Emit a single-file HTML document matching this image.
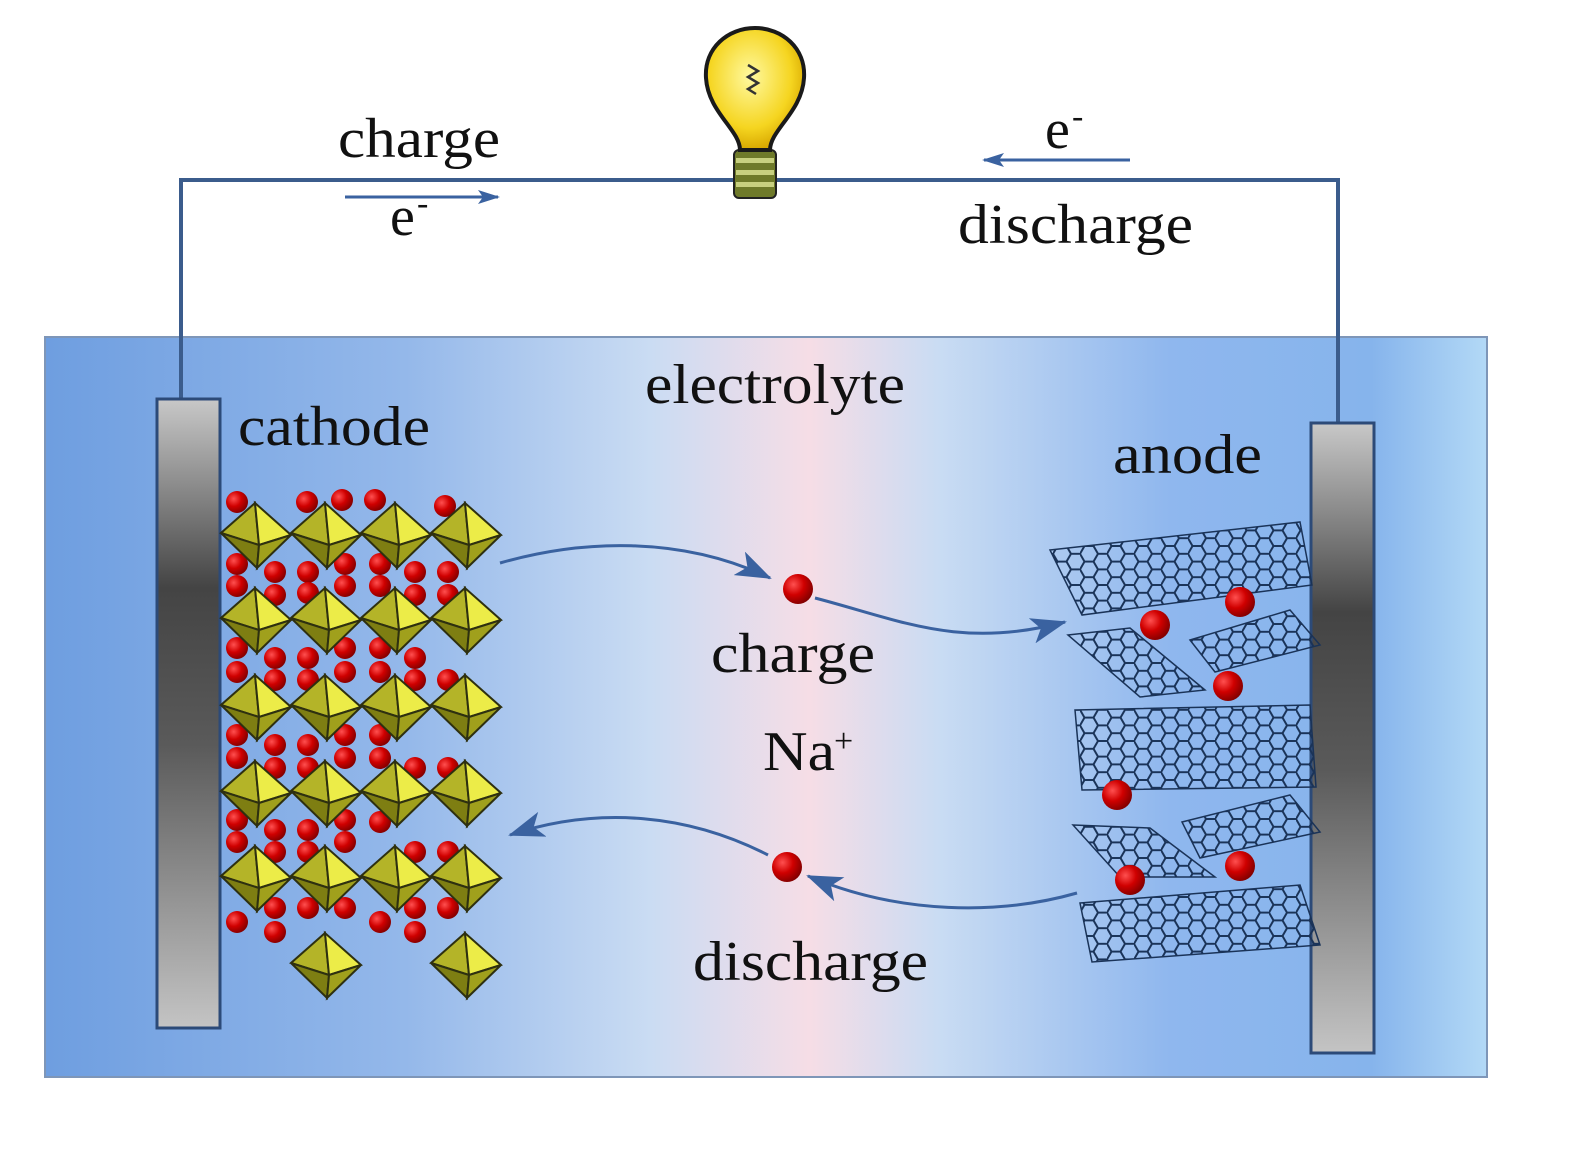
<!DOCTYPE html>
<html><head><meta charset="utf-8">
<style>
html,body{margin:0;padding:0;background:#fff;}
svg{display:block;}
text{font-family:"Liberation Serif",serif;fill:#111;}
</style></head>
<body>
<svg width="1584" height="1156" viewBox="0 0 1584 1156" xmlns="http://www.w3.org/2000/svg">
<defs>
<linearGradient id="elec" x1="0" y1="0" x2="1" y2="0">
<stop offset="0" stop-color="#6e9ee0"/>
<stop offset="0.25" stop-color="#94b8ea"/>
<stop offset="0.42" stop-color="#cadcf3"/>
<stop offset="0.53" stop-color="#f6dde6"/>
<stop offset="0.62" stop-color="#c9dcf3"/>
<stop offset="0.78" stop-color="#8fb7ee"/>
<stop offset="0.92" stop-color="#86b4ec"/>
<stop offset="1" stop-color="#b3d9f6"/>
</linearGradient>
<linearGradient id="rod" x1="0" y1="0" x2="0" y2="1">
<stop offset="0" stop-color="#c8c8c8"/>
<stop offset="0.3" stop-color="#444"/>
<stop offset="0.55" stop-color="#5a5a5a"/>
<stop offset="1" stop-color="#c4c4c4"/>
</linearGradient>
<radialGradient id="ball" cx="0.35" cy="0.35" r="0.7">
<stop offset="0" stop-color="#ff5050"/>
<stop offset="0.5" stop-color="#d00000"/>
<stop offset="1" stop-color="#800000"/>
</radialGradient>
<radialGradient id="glass" cx="0.45" cy="0.4" r="0.6">
<stop offset="0" stop-color="#fff9a0"/>
<stop offset="0.7" stop-color="#f5d520"/>
<stop offset="1" stop-color="#d8a800"/>
</radialGradient>
<g id="oct">
<polygon points="0,-32 -34,-2 4,10" fill="#b4b428" stroke="#2e3010" stroke-width="2"/>
<polygon points="0,-32 4,10 36,0" fill="#ecec48" stroke="#2e3010" stroke-width="2"/>
<polygon points="-34,-2 4,10 2,33" fill="#7e7e12" stroke="#2e3010" stroke-width="2"/>
<polygon points="4,10 36,0 2,33" fill="#a0a01c" stroke="#2e3010" stroke-width="2"/>
</g>
<circle id="b" r="11" fill="url(#ball)"/>
<circle id="B" r="15" fill="url(#ball)"/>
<pattern id="hex" width="27" height="15.6" patternUnits="userSpaceOnUse">
<path d="M0,7.8 L4.5,0 L13.5,0 L18,7.8 L13.5,15.6 L4.5,15.6 Z M18,7.8 L27,7.8" fill="none" stroke="#1a3358" stroke-width="2"/>
</pattern>
<marker id="ah" markerWidth="22" markerHeight="14" refX="20" refY="7" orient="auto" markerUnits="userSpaceOnUse">
<path d="M0,0 L22,7 L0,14 L5,7 Z" fill="#3a62a0"/>
</marker>
<marker id="ah2" markerWidth="36" markerHeight="26" refX="34" refY="13" orient="auto" markerUnits="userSpaceOnUse">
<path d="M0,0 L36,13 L0,26 L9,13 Z" fill="#3a62a0"/>
</marker>
</defs>

<rect x="45" y="337" width="1442" height="740" fill="url(#elec)" stroke="#7e96b8" stroke-width="2"/>

<path d="M181,400 V180 H1338 V423" fill="none" stroke="#3b5c8c" stroke-width="4"/>

<g>
<rect x="734" y="150" width="42" height="48" rx="5" fill="#6f7a2a" stroke="#222" stroke-width="2"/>
<rect x="736" y="158" width="38" height="5" fill="#c8d080"/>
<rect x="736" y="170" width="38" height="5" fill="#c8d080"/>
<rect x="736" y="182" width="38" height="5" fill="#c8d080"/>
<path d="M740,150 C740,130 708,112 706,78 C704,48 728,28 755,28 C782,28 806,48 804,78 C802,112 770,130 770,150 Z" fill="url(#glass)" stroke="#1a1a1a" stroke-width="4"/>
<path d="M748,65 l10,6 -10,6 10,6 -10,6 8,5" fill="none" stroke="#333" stroke-width="2.5"/>
</g>

<text x="338" y="157" font-size="56" textLength="162" lengthAdjust="spacingAndGlyphs">charge</text>
<text x="390" y="235" font-size="56">e</text><text x="417" y="214" font-size="34">-</text>
<line x1="345" y1="197" x2="498" y2="197" stroke="#3a62a0" stroke-width="3" marker-end="url(#ah)"/>
<text x="1045" y="148" font-size="56">e</text><text x="1072" y="127" font-size="34">-</text>
<line x1="1130" y1="160" x2="984" y2="160" stroke="#3a62a0" stroke-width="3" marker-end="url(#ah)"/>
<text x="958" y="243" font-size="56" textLength="235" lengthAdjust="spacingAndGlyphs">discharge</text>

<text x="645" y="403" font-size="56" textLength="260" lengthAdjust="spacingAndGlyphs">electrolyte</text>
<text x="238" y="445" font-size="56" textLength="192" lengthAdjust="spacingAndGlyphs">cathode</text>
<text x="1113" y="473" font-size="56" textLength="149" lengthAdjust="spacingAndGlyphs">anode</text>
<text x="711" y="672" font-size="56" textLength="164" lengthAdjust="spacingAndGlyphs">charge</text>
<text x="763" y="770" font-size="56" textLength="72" lengthAdjust="spacingAndGlyphs">Na</text><text x="834" y="752" font-size="34">+</text>
<text x="693" y="980" font-size="56" textLength="235" lengthAdjust="spacingAndGlyphs">discharge</text>

<rect x="157" y="399" width="63" height="629" fill="url(#rod)" stroke="#2c4a78" stroke-width="3"/>
<rect x="1311" y="423" width="63" height="630" fill="url(#rod)" stroke="#2c4a78" stroke-width="3"/>

<g>
<use href="#b" x="237" y="502"/><use href="#b" x="307" y="502"/><use href="#b" x="342" y="500"/><use href="#b" x="375" y="500"/><use href="#b" x="445" y="506"/>
<use href="#b" x="237" y="564"/><use href="#b" x="237" y="586"/><use href="#b" x="275" y="572"/><use href="#b" x="275" y="595"/><use href="#b" x="308" y="572"/><use href="#b" x="308" y="593"/><use href="#b" x="345" y="564"/><use href="#b" x="345" y="586"/><use href="#b" x="380" y="564"/><use href="#b" x="380" y="586"/><use href="#b" x="415" y="572"/><use href="#b" x="415" y="595"/><use href="#b" x="448" y="572"/><use href="#b" x="448" y="595"/>
<use href="#b" x="237" y="648"/><use href="#b" x="237" y="672"/><use href="#b" x="275" y="658"/><use href="#b" x="275" y="680"/><use href="#b" x="308" y="658"/><use href="#b" x="308" y="680"/><use href="#b" x="345" y="648"/><use href="#b" x="345" y="672"/><use href="#b" x="380" y="648"/><use href="#b" x="380" y="672"/><use href="#b" x="415" y="658"/><use href="#b" x="415" y="680"/><use href="#b" x="448" y="680"/>
<use href="#b" x="237" y="735"/><use href="#b" x="237" y="758"/><use href="#b" x="275" y="745"/><use href="#b" x="275" y="768"/><use href="#b" x="308" y="745"/><use href="#b" x="308" y="768"/><use href="#b" x="345" y="735"/><use href="#b" x="345" y="758"/><use href="#b" x="380" y="735"/><use href="#b" x="380" y="758"/><use href="#b" x="415" y="768"/><use href="#b" x="448" y="768"/>
<use href="#b" x="237" y="820"/><use href="#b" x="237" y="842"/><use href="#b" x="275" y="830"/><use href="#b" x="275" y="852"/><use href="#b" x="308" y="830"/><use href="#b" x="308" y="852"/><use href="#b" x="345" y="820"/><use href="#b" x="345" y="842"/><use href="#b" x="380" y="822"/><use href="#b" x="415" y="852"/><use href="#b" x="448" y="852"/>
<use href="#b" x="237" y="922"/><use href="#b" x="275" y="908"/><use href="#b" x="275" y="932"/><use href="#b" x="308" y="908"/><use href="#b" x="345" y="908"/><use href="#b" x="380" y="922"/><use href="#b" x="415" y="908"/><use href="#b" x="415" y="932"/><use href="#b" x="448" y="908"/>
</g>
<g>
<use href="#oct" x="255" y="535"/><use href="#oct" x="325" y="535"/><use href="#oct" x="395" y="535"/><use href="#oct" x="465" y="535"/>
<use href="#oct" x="255" y="620"/><use href="#oct" x="325" y="620"/><use href="#oct" x="395" y="620"/><use href="#oct" x="465" y="620"/>
<use href="#oct" x="255" y="707"/><use href="#oct" x="325" y="707"/><use href="#oct" x="395" y="707"/><use href="#oct" x="465" y="707"/>
<use href="#oct" x="255" y="793"/><use href="#oct" x="325" y="793"/><use href="#oct" x="395" y="793"/><use href="#oct" x="465" y="793"/>
<use href="#oct" x="255" y="878"/><use href="#oct" x="325" y="878"/><use href="#oct" x="395" y="878"/><use href="#oct" x="465" y="878"/>
<use href="#oct" x="325" y="965"/><use href="#oct" x="465" y="965"/>
</g>

<g fill="url(#hex)" stroke="#1a3358" stroke-width="1.5">
<polygon points="1050,550 1300,522 1312,585 1082,615"/>
<polygon points="1068,635 1130,628 1205,690 1140,697"/>
<polygon points="1190,640 1290,610 1320,645 1215,672"/>
<polygon points="1075,710 1310,705 1316,787 1082,790"/>
<polygon points="1073,825 1150,828 1215,877 1120,877"/>
<polygon points="1182,822 1290,795 1320,832 1200,858"/>
<polygon points="1080,903 1300,885 1320,945 1092,962"/>
</g>
<use href="#B" x="1155" y="625"/><use href="#B" x="1240" y="602"/><use href="#B" x="1228" y="686"/>
<use href="#B" x="1117" y="795"/><use href="#B" x="1130" y="880"/><use href="#B" x="1240" y="866"/>

<use href="#B" x="798" y="589"/>
<use href="#B" x="787" y="867"/>

<g fill="none" stroke="#3a62a0" stroke-width="3">
<path d="M500,563 C580,540 680,535 770,578" marker-end="url(#ah2)"/>
<path d="M815,598 C900,620 960,650 1065,622" marker-end="url(#ah2)"/>
<path d="M1077,893 C1000,915 900,915 808,876" marker-end="url(#ah2)"/>
<path d="M768,855 C690,815 600,805 510,835" marker-end="url(#ah2)"/>
</g>
</svg>
</body></html>
